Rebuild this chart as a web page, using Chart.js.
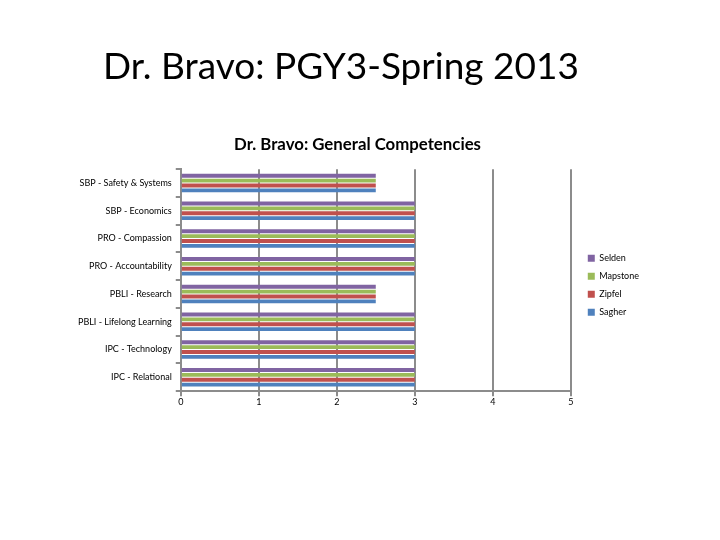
<!DOCTYPE html>
<html>
<head>
<meta charset="utf-8">
<script src="https://cdn.jsdelivr.net/npm/chart.js@4/dist/chart.umd.min.js"></script>
<style>
	html, body { margin: 0; padding: 0; background: #fff; }
	#wrap { position: absolute; left: 0; top: 0; width: 720px; height: 540px; }
	#slide-title {
		position: absolute; left: 0; top: 43px; width: 682px;
		text-align: center; font-family: Lato, 'Noto Sans', sans-serif;
		font-size: 37px; line-height: 44px; color: #000; white-space: nowrap;
	}
</style>
</head>
<body>
<div id="wrap"><canvas id="chart-area"></canvas></div>
<div id="slide-title">Dr. Bravo: PGY3-Spring 2013</div>
<script>
// Chart data
var categories = [
	"SBP - Safety & Systems",
	"SBP - Economics",
	"PRO - Compassion",
	"PRO - Accountability",
	"PBLI - Research",
	"PBLI - Lifelong Learning",
	"IPC - Technology",
	"IPC - Relational"
];
var seldenValues   = [2.5, 3, 3, 3, 2.5, 3, 3, 3];
var mapstoneValues = [2.5, 3, 3, 3, 2.5, 3, 3, 3];
var zipfelValues   = [2.5, 3, 3, 3, 2.5, 3, 3, 3];
var sagherValues   = [2.5, 3, 3, 3, 2.5, 3, 3, 3];
var xTicks = [0, 1, 2, 3, 4, 5];

var fontFamily = "Lato, 'Noto Sans', sans-serif";

function series(label, data, color) {
	return {
		label: label,
		data: data,
		backgroundColor: color,
		borderWidth: 0,
		categoryPercentage: 0.7,
		barPercentage: 0.8
	};
}

// push the legend a little away from the plot, like the original
var legendGap = {
	id: 'legendGap',
	afterLayout: function (chart) {
		if (chart.legend) {
			chart.legend.left += 8;
			chart.legend.right += 8;
			chart.legend.top += 5;
			chart.legend.bottom += 5;
		}
	}
};

var config = {
	type: 'bar',
	data: {
		labels: categories,
		datasets: [
			series("Selden", seldenValues, '#8064A2'),
			series("Mapstone", mapstoneValues, '#9BBB59'),
			series("Zipfel", zipfelValues, '#C0504D'),
			series("Sagher", sagherValues, '#4F81BD')
		]
	},
	options: {
		indexAxis: 'y',
		responsive: true,
		maintainAspectRatio: false,
		animation: false,
		layout: {
			padding: { left: 74, right: 79, top: 0, bottom: 133 }
		},
		plugins: {
			title: {
				display: true,
				text: "Dr. Bravo: General Competencies",
				color: '#000',
				font: { family: fontFamily, size: 16.8, weight: 'bold' },
				padding: { top: 135, bottom: 14 }
			},
			legend: {
				position: 'right',
				fullSize: false,
				labels: {
					color: '#000',
					font: { family: fontFamily, size: 9 },
					boxWidth: 7,
					boxHeight: 7,
					padding: 9
				}
			},
			tooltip: { enabled: false }
		},
		scales: {
			x: {
				min: 0,
				max: 5,
				afterBuildTicks: function (axis) {
					axis.ticks = xTicks.map(function (v) { return { value: v }; });
				},
				grid: {
					color: '#8c8c8c',
					lineWidth: 2,
					tickLength: 5
				},
				border: { color: '#8c8c8c', width: 2 },
				ticks: {
					color: '#000',
					font: { family: fontFamily, size: 9 },
					padding: 0
				}
			},
			y: {
				grid: {
					offset: true,
					drawOnChartArea: false,
					color: '#8c8c8c',
					lineWidth: 2,
					tickLength: 5
				},
				border: { color: '#8c8c8c', width: 2 },
				ticks: {
					color: '#000',
					font: { family: fontFamily, size: 9 },
					padding: 4
				}
			}
		}
	},
	plugins: [legendGap]
};

var ctx = document.getElementById('chart-area').getContext('2d');
var myChart = new Chart(ctx, config);
</script>
</body>
</html>
